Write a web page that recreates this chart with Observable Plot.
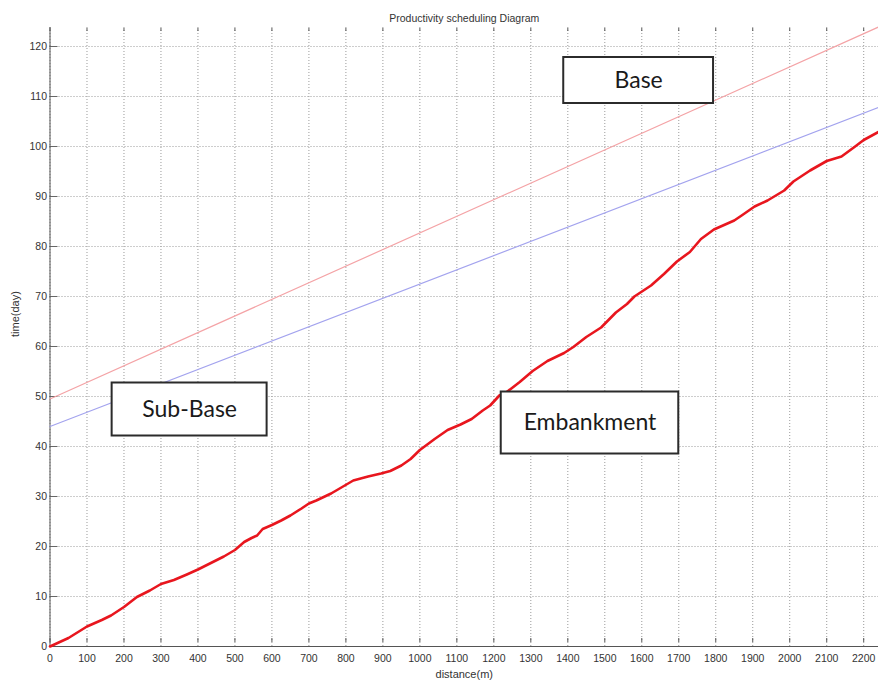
<!DOCTYPE html>
<html>
<head>
<meta charset="utf-8">
<script src="https://cdn.jsdelivr.net/npm/d3@7"></script>
<script src="https://cdn.jsdelivr.net/npm/@observablehq/plot@0.6"></script>
<style>
  html, body { margin: 0; padding: 0; background: #fff; }
  #chart { width: 878px; height: 687px; }
</style>
</head>
<body>
<div id="chart"></div>
<script>
// ---- Data ----
const titleText = "Productivity scheduling Diagram";
const xLabel = "distance(m)";
const yLabel = "time(day)";

const xTicks = [0,100,200,300,400,500,600,700,800,900,1000,1100,1200,1300,1400,1500,1600,1700,1800,1900,2000,2100,2200];
const yTicks = [0,10,20,30,40,50,60,70,80,90,100,110,120];

// Embankment (red, thick, measured)
const embDistance = [0,50,100,140,165,200,235,270,300,335,370,400,435,470,500,525,545,560,575,600,625,650,680,700,720,760,790,820,860,895,920,950,975,1000,1040,1075,1110,1140,1170,1190,1215,1235,1270,1305,1345,1390,1415,1450,1490,1530,1560,1580,1625,1660,1695,1730,1760,1795,1850,1870,1905,1940,1985,2010,2055,2100,2140,2175,2200,2240];
const embTime = [0,1.7,4.0,5.3,6.2,7.9,9.9,11.2,12.5,13.3,14.4,15.4,16.7,18.0,19.3,20.9,21.7,22.2,23.5,24.3,25.2,26.2,27.6,28.6,29.2,30.6,31.9,33.2,34.0,34.6,35.1,36.2,37.5,39.3,41.5,43.3,44.4,45.5,47.2,48.2,50.2,50.9,52.9,55.1,57.1,58.7,59.9,61.9,63.8,66.8,68.5,70.0,72.2,74.5,77.0,78.9,81.5,83.4,85.2,86.2,88.0,89.2,91.2,93.0,95.2,97.1,98.0,99.9,101.3,102.9];

// Sub-Base (blue, thin) and Base (pink, thin)
const subBaseDistance = [0, 2240];
const subBaseTime = [44.0, 107.8];
const baseDistance = [0, 2240];
const baseTime = [49.5, 123.9];

// Annotation boxes (data coordinates)
const boxText = ["Base", "Sub-Base", "Embankment"];
const boxX1 = [1389, 168, 1220];
const boxX2 = [1794, 587, 1700];
const boxY1 = [108.6, 42.1, 38.5];
const boxY2 = [117.8, 52.7, 50.9];

// ---- Build tables ----
const emb = embDistance.map((d, i) => ({x: d, y: embTime[i]}));
const sub = subBaseDistance.map((d, i) => ({x: d, y: subBaseTime[i]}));
const base = baseDistance.map((d, i) => ({x: d, y: baseTime[i]}));
const boxes = boxText.map((t, i) => ({t, x1: boxX1[i], x2: boxX2[i], y1: boxY1[i], y2: boxY2[i], xm: (boxX1[i]+boxX2[i])/2, ym: (boxY1[i]+boxY2[i])/2}));

const gridStyle = {stroke: "#9a9a9a", strokeOpacity: 1, strokeWidth: 1, strokeDasharray: "1,2"};
const fmt = d => String(d);

const chart = Plot.plot({
  width: 878,
  height: 687,
  marginLeft: 49.5,
  marginRight: 0,
  marginTop: 27,
  marginBottom: 41,
  x: {domain: [0, 2240]},
  y: {domain: [0, 123.8]},
  style: {fontFamily: "'Liberation Sans', Arial, sans-serif", fontSize: "10.5px", color: "#333", background: "#fff"},
  marks: [
    Plot.gridX(xTicks, gridStyle),
    Plot.gridY(yTicks, gridStyle),
    // tick labels
    Plot.axisX(xTicks, {tickSize: 0, tickPadding: 8, label: null, fill: "#333", tickFormat: fmt}),
    Plot.axisY(yTicks, {tickSize: 0, tickPadding: 3, label: null, fill: "#333", tickFormat: fmt}),
    // inward ticks (MATLAB style)
    Plot.axisY(yTicks, {anchor: "left", tickSize: 8, dx: 8, fill: "none", label: null, stroke: "#666"}),
    Plot.axisX(xTicks, {anchor: "bottom", tickSize: 4, dy: -8, fill: "none", label: null, stroke: "#555"}),
    Plot.axisX(xTicks, {anchor: "top", tickSize: 3, dy: 3, fill: "none", label: null, stroke: "#555"}),
    // axis lines
    Plot.ruleX([0], {stroke: "#555"}),
    Plot.ruleY([0], {stroke: "#555"}),
    // series
    Plot.line(base, {x: "x", y: "y", stroke: "#f4a3a6", strokeWidth: 1.2}),
    Plot.line(sub, {x: "x", y: "y", stroke: "#a3a3ee", strokeWidth: 1.2}),
    Plot.line(emb, {x: "x", y: "y", stroke: "#e8161e", strokeWidth: 2.6}),
    // annotation boxes
    Plot.rect(boxes, {x1: "x1", x2: "x2", y1: "y1", y2: "y2", fill: "#fff", stroke: "#2b2b2b", strokeWidth: 2}),
    Plot.text(boxes, {x: "xm", y: "ym", text: "t", fontSize: 23, fontFamily: "Lato, 'Open Sans', sans-serif", fill: "#1a1a1a"}),
    // title and axis labels
    Plot.text([titleText], {frameAnchor: "top", dy: -13, fontSize: 10.5, fill: "#333"}),
    Plot.text([xLabel], {frameAnchor: "bottom", dy: 31, fontSize: 11, fill: "#333"}),
    Plot.text([yLabel], {frameAnchor: "left", dx: -35, rotate: -90, fontSize: 11, fill: "#333"})
  ]
});
document.getElementById("chart").appendChild(chart);
</script>
</body>
</html>
